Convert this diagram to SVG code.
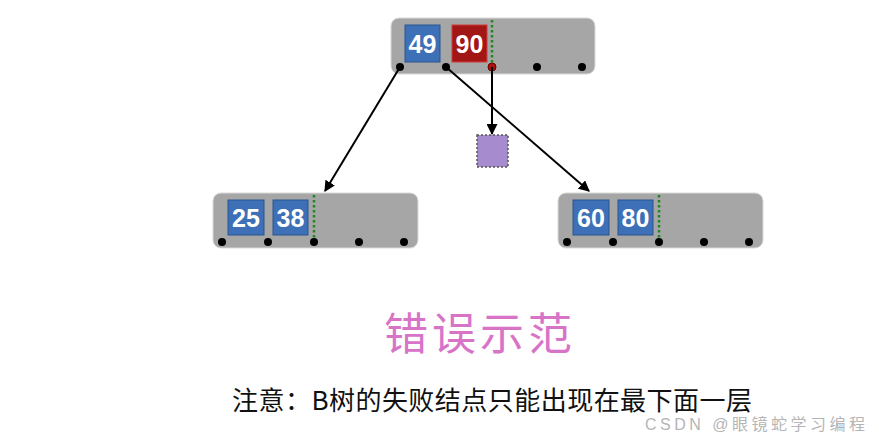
<svg xmlns="http://www.w3.org/2000/svg" width="879" height="437" viewBox="0 0 879 437">
<defs>
<marker id="ah" viewBox="0 0 10 10" refX="9" refY="5" markerWidth="11" markerHeight="11" markerUnits="userSpaceOnUse" orient="auto">
<path d="M0,0 L10,5 L0,10 Z" fill="#000"/>
</marker>
<style>
.node{fill:#a6a6a6;stroke:#d9d9d9;stroke-width:1}
.kb{fill:#3d70b6;stroke:#2a5590;stroke-width:1}
.kr{fill:#a31616;stroke:#d03a3a;stroke-width:1}
.kt{font-family:"Liberation Sans",Arial,sans-serif;font-size:25px;font-weight:bold;fill:#fff;text-anchor:middle}
.gl{stroke:#1e8a1e;stroke-width:2.5;stroke-dasharray:2.5 2.5}
.dot{fill:#000}
.edge{stroke:#000;stroke-width:2;fill:none;marker-end:url(#ah)}
</style>
</defs>
<rect width="879" height="437" fill="#fff"/>
<g id="root">
<rect class="node" x="391" y="18" width="204" height="56" rx="8"/>
<rect class="kb" x="405" y="25" width="35" height="37"/>
<text class="kt" x="422.5" y="52.5">49</text>
<rect class="kr" x="452" y="25" width="35" height="37"/>
<text class="kt" x="469.5" y="52.5">90</text>
<line class="gl" x1="492" y1="20" x2="492" y2="66"/>
<circle class="dot" cx="400" cy="67" r="4"/>
<circle class="dot" cx="446" cy="67" r="4"/>
<circle cx="492" cy="67" r="4" fill="#b01010" stroke="#600" stroke-width="1"/>
<circle class="dot" cx="537" cy="67" r="4"/>
<circle class="dot" cx="582" cy="67" r="4"/>
</g>
<g id="left">
<rect class="node" x="213" y="193" width="205" height="55" rx="8"/>
<rect class="kb" x="228" y="200" width="36" height="35"/>
<text class="kt" x="246" y="226.5">25</text>
<rect class="kb" x="273" y="200" width="35" height="35"/>
<text class="kt" x="290.5" y="226.5">38</text>
<line class="gl" x1="314" y1="195" x2="314" y2="241"/>
<circle class="dot" cx="222" cy="242" r="4"/>
<circle class="dot" cx="268" cy="242" r="4"/>
<circle class="dot" cx="314" cy="242" r="4"/>
<circle class="dot" cx="359" cy="242" r="4"/>
<circle class="dot" cx="404" cy="242" r="4"/>
</g>
<g id="right">
<rect class="node" x="558" y="193" width="205" height="55" rx="8"/>
<rect class="kb" x="573" y="200" width="36" height="35"/>
<text class="kt" x="591" y="226.5">60</text>
<rect class="kb" x="618" y="200" width="35" height="35"/>
<text class="kt" x="635.5" y="226.5">80</text>
<line class="gl" x1="659" y1="195" x2="659" y2="241"/>
<circle class="dot" cx="567" cy="242" r="4"/>
<circle class="dot" cx="613" cy="242" r="4"/>
<circle class="dot" cx="659" cy="242" r="4"/>
<circle class="dot" cx="704" cy="242" r="4"/>
<circle class="dot" cx="749" cy="242" r="4"/>
</g>
<g id="fail">
<rect x="477" y="135" width="31" height="32" fill="#a78bcf" stroke="#555" stroke-width="1.5" stroke-dasharray="2 2"/>
</g>
<g id="edges">
<line class="edge" x1="400" y1="67" x2="325" y2="191"/>
<line class="edge" x1="446" y1="67" x2="589" y2="191"/>
<line class="edge" x1="492" y1="67" x2="492" y2="134"/>
</g>
<text x="478" y="350" font-family="'Noto Sans CJK SC',sans-serif" font-size="44" fill="#d874c8" text-anchor="middle" textLength="188">错误示范</text>
<text x="232" y="410" font-family="'Noto Sans CJK SC',sans-serif" font-size="26" fill="#111" textLength="520">注意：B树的失败结点只能出现在最下面一层</text>
<text x="645" y="430" font-family="'Liberation Sans','Noto Sans CJK SC',sans-serif" font-size="16" fill="#b5b5b5" textLength="220">CSDN @眼镜蛇学习编程</text>
</svg>
